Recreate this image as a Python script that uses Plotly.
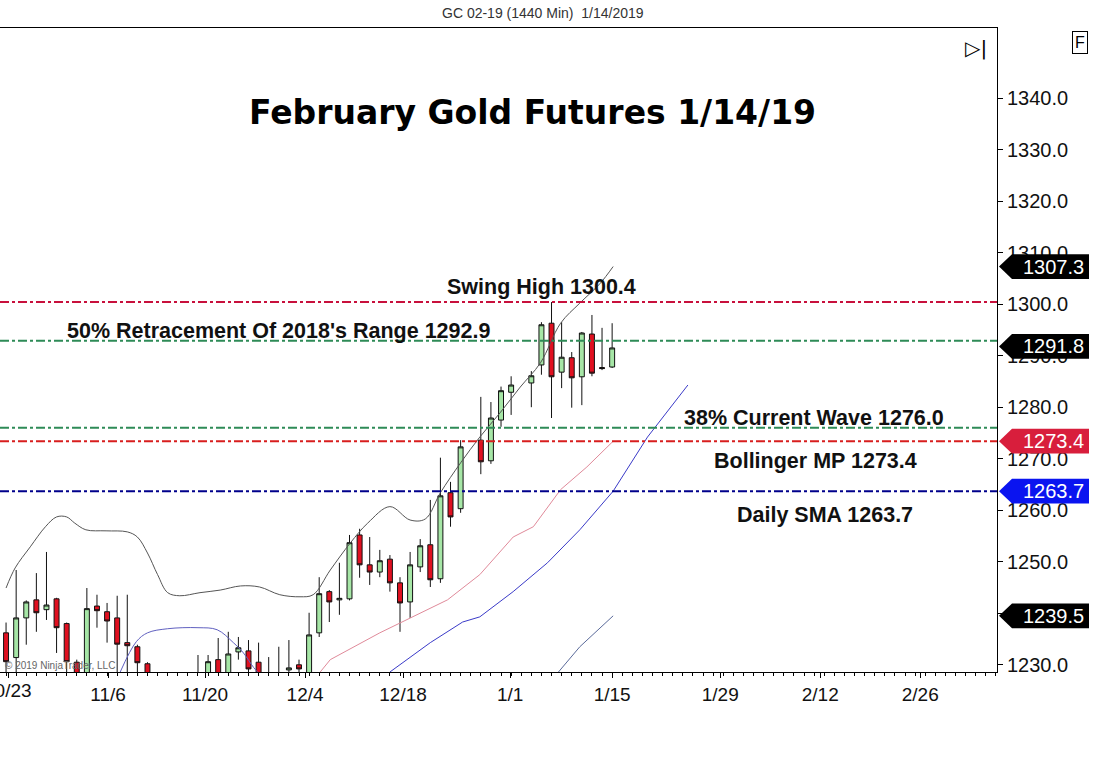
import plotly.graph_objects as go

slots = list(range(61))
opens = [1236.2,1231.4,1239.1,1242.6,1240.7,1242.8,1238.0,1230.5,1227,1241.4,1240.3,1239.1,1234.3,1233.5,1230.2,1226,1220,1222,1218,1223,
         1226,1231,1228,1232.5,1232.7,1230.5,1227,1224,1229.0,1230,1227,1236.2,1244.2,1242.6,1242.8,1255.2,1249.4,1248,1250.5,1245.9,
         1242.2,1249,1253.3,1246.7,1263.4,1260.3,None,1273.6,1269.6,1277.5,1282.9,None,1284.7,1288.2,1296.3,1286.8,1289.6,1285.9,1294.2,1287.7,1287.8]
highs = [1238.2,1248.4,1242.5,1247.8,1251.9,1243.0,1238.2,1231,1244.9,1243.6,1242.0,1243.4,1243.6,1233.9,1230.5,1227,1224,1226,1225,1231.9,
         1231.9,1235.2,1236.4,1235.4,1234.8,1234.3,1231.5,1233.5,1234.8,1231,1240.1,1247,1244.5,1249.8,1255.2,1256.4,1254.8,1252.3,1251.3,1247,
         1251.9,1254.4,1262,1270.2,1265.5,1273.6,None,1282,1281,1284,1286,None,1287,1296.5,1300.4,1296.5,1290.7,1294.6,1297.9,1295.4,1296.3]
lows = [1226,1226,1233.9,1236.4,1238.7,1232.3,1226,1224,1226,1237.2,1234.3,1227,1228,1226,1222,1218,1215,1216,1214,1221,
        1224,1225,1226,1231,1227,1225,1222,1222,1226,1226,1226,1235.4,1238.3,1239.7,1242.5,1246.9,1245.5,1247,1244.2,1236.4,
        1239.1,1248,1245.1,1245.9,1256.8,1259.5,None,1267,1269,1276.2,1278.5,None,1280,1286.3,1277.9,1283.7,1279.9,1280.4,1286,1287.2,1287.6]
closes = [1230.6,1239.1,1242.2,1240.1,1241.6,1237.2,1230.6,1228.0,1240.9,1240.5,1238.5,1234.0,1233.7,1230.4,1226,1220,1222,1218,1223,1226,
          1230.6,1228,1232.1,1233.3,1229.2,1227,1224,1226,1229.4,1229.2,1235.8,1243.8,1242.2,1242.9,1253.7,1249.4,1248.0,1250.2,1245.9,1242,
          1249.4,1253.1,1246.5,1262.8,1258.7,1272.3,None,1269.4,1277.9,1283.2,1284.3,None,1286.1,1296,1285.9,1289.7,1285.7,1294.4,1286.6,1287.5,1291.5]

upper_x = [0,0.9,2.4,3.9,5,6,6.8,7.9,9.9,12,13,14,15,16,17.2,19.2,21.2,23.2,25.1,27.1,29.1,30.4,32.1,34.1,35.8,38,40,41.5,43,45,46.9,48.9,50.9,52.9,54.9,56.8,58.8,60.1]
upper_y = [1244.9,1248.8,1252.9,1256.8,1258.7,1258.7,1257.5,1256.2,1256,1255.8,1254.8,1251.7,1247.5,1244,1243.4,1244,1244.5,1245.3,1245.1,1243.6,1243.2,1243.6,1248.4,1253.7,1257.5,1260.7,1258.1,1258.3,1263.4,1269.2,1274.2,1278.9,1283.9,1288.6,1296.3,1300.2,1304,1307.3]
lower_x = [11.3,12.9,14,16,19,20.9,22.5,23.5,24.5,25.2]
lower_y = [1228.6,1234.5,1236.2,1237.0,1237.2,1236.8,1234.3,1232.3,1229.5,1228.0]
mid_x = [31.1,32.1,37,40.3,43.7,46.9,50.2,52.2,54.9,57.5,60.1]
mid_y = [1228.6,1231,1236.2,1239.3,1242.6,1247.5,1254.8,1256.8,1264,1268.4,1273.4]
sma_x = [38,42,45.2,46.9,50.2,53.6,56.8,60.1,63.5,67.5]
sma_y = [1228.6,1234.3,1238.3,1239.3,1244.2,1249.8,1256.2,1263.7,1274.2,1284.3]
low2_x = [54.6,56.8,60.1]
low2_y = [1228.4,1233.5,1239.5]

tick_pos = [0.2,10.1,19.7,29.6,39.3,49.9,60,70.7,80.6,90.5]
tick_txt = ["10/23","11/6","11/20","12/4","12/18","1/1","1/15","1/29","2/12","2/26"]

levels = [1300.4,1292.9,1276.0,1273.4,1263.7]
level_colors = ["#c8103c","#2e8b57","#2e8b57","#d81e1e","#00008b"]

fig = go.Figure()
fig.add_trace(go.Candlestick(x=slots, open=opens, high=highs, low=lows, close=closes,
    increasing=dict(fillcolor="#a6e6a6", line=dict(color="#111", width=1)),
    decreasing=dict(fillcolor="#e01020", line=dict(color="#111", width=1)),
    whiskerwidth=0, showlegend=False))
fig.add_trace(go.Scatter(x=upper_x, y=upper_y, mode="lines", line=dict(color="#555", width=1, shape="spline"), showlegend=False))
fig.add_trace(go.Scatter(x=lower_x, y=lower_y, mode="lines", line=dict(color="#6060c0", width=1, shape="spline"), showlegend=False))
fig.add_trace(go.Scatter(x=mid_x, y=mid_y, mode="lines", line=dict(color="#e08a9a", width=1), showlegend=False))
fig.add_trace(go.Scatter(x=sma_x, y=sma_y, mode="lines", line=dict(color="#3a3ac8", width=1), showlegend=False))
fig.add_trace(go.Scatter(x=low2_x, y=low2_y, mode="lines", line=dict(color="#5a6a9a", width=1), showlegend=False))

W, PR, PT, PB = 1094, 997, 28, 672
def px(x): return x / PR
def py(y): return (PB - y) / (PB - PT)

shapes = []
for lv, c in zip(levels, level_colors):
    shapes.append(dict(type="line", xref="paper", yref="y", x0=0, x1=1, y0=lv, y1=lv,
                       line=dict(color=c, width=2, dash="dashdot")))

def note(text, x, y, size, color="#111", family="Liberation Sans", **kw):
    d = dict(text=text, xref="paper", yref="paper", x=px(x), y=py(y), xanchor="center", yanchor="middle",
             showarrow=False, font=dict(size=size, color=color, family=family))
    d.update(kw)
    return d

annotations = [
    note("GC 02-19 (1440 Min)  1/14/2019", 543, 13, 14, "#333"),
    note("<b>February Gold Futures 1/14/19</b>", 532, 112, 33, "#000", "DejaVu Sans"),
    note("© 2019 NinjaTrader, LLC", 3, 665, 10, "#666", xanchor="left"),
    note("F", 1080, 43, 16, "#000", bordercolor="#000", borderwidth=1, borderpad=2),
    note("▷|", 976, 48, 20, "#000", "DejaVu Sans"),
    note("10/23", 8, 690, 19),
]
texts = [("Swing High 1300.4", 541, 287), ("50% Retracement Of 2018's Range 1292.9", 278, 331),
         ("38% Current Wave 1276.0", 814, 418), ("Bollinger MP 1273.4", 815, 461), ("Daily SMA 1263.7", 825, 515)]
for t, x, y in texts:
    annotations.append(note("<b>"+t+"</b>", x, y, 21.5))

tags = [(1307.3, "#000"), (1291.8, "#000"), (1273.4, "#d81e3c"), (1263.7, "#0a14f0"), (1239.5, "#000")]
for v, c in tags:
    shapes.append(dict(type="path", xref="paper", yref="y",
        path=f"M {px(999)},{v} L {px(1012)},{v+2.4} L {px(1089)},{v+2.4} L {px(1089)},{v-2.4} L {px(1012)},{v-2.4} Z",
        fillcolor=c, line=dict(width=0)))
    annotations.append(dict(text=f"{v:.1f}", xref="paper", yref="y", x=px(1086), xanchor="right", y=v, yanchor="middle",
                            showarrow=False, font=dict(size=20, color="#fff", family="Liberation Sans")))

fig.update_layout(
    width=W, height=760, margin=dict(l=0, r=W-PR, t=PT, b=760-PB),
    plot_bgcolor="#fff", paper_bgcolor="#fff", shapes=shapes, annotations=annotations,
    xaxis=dict(range=[-0.6, 98.1], tickvals=tick_pos, ticktext=tick_txt, rangeslider=dict(visible=False),
               showgrid=False, zeroline=False, showline=True, linecolor="#000", mirror=True,
               ticks="outside", ticklen=5, tickcolor="#000",
               minor=dict(dtick=1, tick0=0, ticks="outside", ticklen=3, tickcolor="#000"),
               tickfont=dict(size=19, color="#111", family="Liberation Sans")),
    yaxis=dict(side="right", range=[1228.6, 1353.6], tickvals=[1230+10*i for i in range(12)],
               tickformat=".1f", showgrid=False, zeroline=False, showline=True, linecolor="#000", mirror=True,
               ticks="outside", ticklen=5, tickcolor="#000",
               tickfont=dict(size=20, color="#111", family="Liberation Sans")),
)
fig.write_html("out.html", config={"displayModeBar": False},
               post_script="document.body.style.margin='0';document.body.style.overflow='hidden';")
